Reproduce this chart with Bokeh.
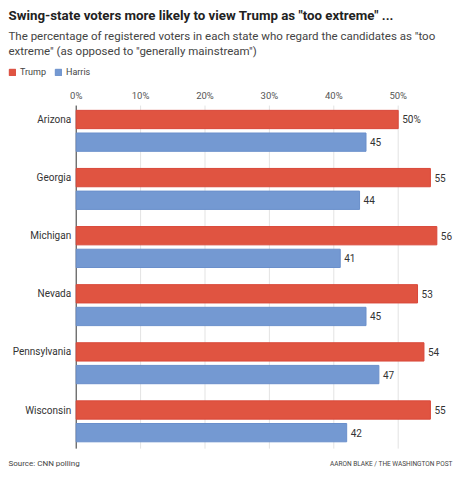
from bokeh.plotting import figure
from bokeh.models import Range1d, Legend, LegendItem, ColumnDataSource
from bokeh.embed import file_html
from bokeh.resources import INLINE
from bokeh.core.properties import value

# ---- data ----
states = ["Arizona", "Georgia", "Michigan", "Nevada", "Pennsylvania", "Wisconsin"]
trump = [50, 55, 56, 53, 54, 55]
harris = [45, 44, 41, 45, 47, 42]
trump_labels = ["50%", "55", "56", "53", "54", "55"]
harris_labels = ["45", "44", "41", "45", "47", "42"]
x_ticks = [0, 10, 20, 30, 40, 50]
x_tick_labels = ["0%", "10%", "20%", "30%", "40%", "50%"]
series_names = ["Trump", "Harris"]

title = 'Swing-state voters more likely to view Trump as "too extreme" ...'
subtitle1 = 'The percentage of registered voters in each state who regard the candidates as "too'
subtitle2 = 'extreme" (as opposed to "generally mainstream")'
source_txt = "Source: CNN polling"
credit_txt = "AARON BLAKE / THE WASHINGTON POST"

# ---- style / layout ----
FONT = "Roboto"
RED = "#e05441"
RED_LINE = "#d9483a"
BLUE = "#7499d2"
BLUE_LINE = "#6a8fcb"
W, H = 460, 477
PX_X = 6.44          # pixels per percentage point
PX_Y = 58.1          # pixels per state row
ZERO_PX = 75.7       # x pixel of 0 %
FIRST_PX = 119       # y pixel of first Trump bar centre
LEFT = 8             # left edge of header / footer texts
XMIN = -ZERO_PX / PX_X
XMAX = (W - ZERO_PX) / PX_X
YTOP = -FIRST_PX / PX_Y
YBOT = (H - FIRST_PX) / PX_Y
GAP = 0.39           # offset of the Harris bar below the Trump bar
BAR_H = 0.315

idx = list(range(len(states)))
trump_y = [i for i in idx]
harris_y = [i + GAP for i in idx]
grid_top = trump_y[0] - 0.24
grid_bot = harris_y[-1] + 0.275

p = figure(width=W, height=H, x_range=Range1d(XMIN, XMAX),
           y_range=Range1d(YBOT, YTOP), output_backend="svg",
           toolbar_location=None)
p.min_border = 0
p.axis.visible = False
p.grid.visible = False
p.outline_line_color = None

# grid lines + zero line
p.segment(x0=x_ticks[1:], x1=x_ticks[1:], y0=grid_top, y1=grid_bot,
          line_color="#e3e3e3", line_width=1)
p.segment(x0=[x_ticks[0]], x1=[x_ticks[0]], y0=grid_top, y1=grid_bot,
          line_color="#333333", line_width=1)

src_t = ColumnDataSource(dict(y=trump_y, v=trump, lab=trump_labels, s=states))
src_h = ColumnDataSource(dict(y=harris_y, v=harris, lab=harris_labels))

r_t = p.hbar(y="y", left=0, right="v", height=BAR_H, source=src_t,
             fill_color=RED, line_color=RED_LINE, line_width=1)
r_h = p.hbar(y="y", left=0, right="v", height=BAR_H, source=src_h,
             fill_color=BLUE, line_color=BLUE_LINE, line_width=1)

for src in (src_t, src_h):
    p.text(x="v", y="y", text="lab", source=src, x_offset=4,
           text_baseline="middle", text_align="left",
           text_font=value(FONT), text_font_size="10px", text_color="#333333")

# state labels
p.text(x=0, y="y", text="s", source=src_t, x_offset=-5,
       text_baseline="middle", text_align="right",
       text_font=value(FONT), text_font_size="10px", text_color="#333333")

# x tick labels (top)
p.text(x=x_ticks, y=YTOP, text=x_tick_labels, y_offset=95,
       text_baseline="middle", text_align="center",
       text_font=value(FONT), text_font_size="9.5px", text_color="#555555")

# header texts
p.text(x=XMIN, y=YTOP, text=[title], x_offset=LEFT, y_offset=15,
       text_baseline="middle",
       text_font=value(FONT), text_font_size="13.3px", text_font_style="bold",
       text_color="#222222")
p.text(x=XMIN, y=YTOP, text=[subtitle1, subtitle2], x_offset=LEFT,
       y_offset=[35.5, 50.5], text_baseline="middle",
       text_font=value(FONT), text_font_size="11.5px", text_color="#444444")

# footer texts
p.text(x=XMIN, y=YBOT, text=[source_txt], x_offset=LEFT, y_offset=-14,
       text_baseline="middle",
       text_font=value(FONT), text_font_size="8px", text_color="#444444")
p.text(x=XMAX, y=YBOT, text=[credit_txt], x_offset=-LEFT, y_offset=-14,
       text_baseline="middle", text_align="right",
       text_font=value(FONT), text_font_size="6.5px", text_color="#444444")

legend = Legend(items=[LegendItem(label=series_names[0], renderers=[r_t]),
                       LegendItem(label=series_names[1], renderers=[r_h])],
                orientation="horizontal", location=(LEFT, H - 77),
                glyph_width=8, glyph_height=8, label_height=8,
                label_standoff=4, spacing=8, padding=0, margin=0,
                border_line_color=None, background_fill_alpha=0,
                label_text_font=FONT, label_text_font_size="9px",
                label_text_color="#444444")
p.add_layout(legend)

open("out.html", "w").write(file_html(p, INLINE))
